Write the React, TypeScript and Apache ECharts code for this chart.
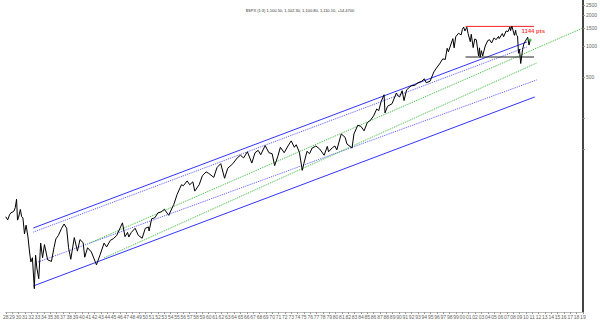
import React, { useEffect, useRef } from "react";
import * as echarts from "echarts";

const YEAR_MIN = 1928;
const YEAR_MAX = 2019;
const PRICE_MIN = 2.615;
const PRICE_MAX = 2797;

const TITLE = "$SPX (1:3) 1,100.50, 1,102.30, 1,100.80, 1,110.10, +14.4700";

const spxYears = [
  1928.0, 1928.3, 1928.6, 1928.8, 1929.0, 1929.3, 1929.5, 1929.7, 1929.85, 1930.0, 1930.3, 1930.5, 1930.7, 1930.95,
  1931.2, 1931.5, 1931.75, 1931.95, 1932.2, 1932.5, 1932.7, 1932.9, 1933.2, 1933.5, 1933.8, 1934.1,
  1934.6, 1935.2, 1935.6, 1935.9, 1936.3, 1936.8, 1937.2, 1937.6, 1937.9, 1938.25, 1938.8, 1939.3,
  1939.7, 1940.2, 1940.45, 1940.9, 1941.5, 1942.3, 1942.9, 1943.5, 1943.9, 1944.5, 1945.0, 1945.5,
  1946.4, 1946.8, 1947.2, 1947.4, 1947.8, 1948.4, 1948.9, 1949.5, 1950.0, 1950.5, 1950.6, 1951.0,
  1951.5, 1952.0, 1952.5, 1953.0, 1953.7, 1954.0, 1954.5, 1955.0, 1955.7, 1956.0, 1956.6, 1957.0,
  1957.5, 1957.8, 1958.5, 1959.0, 1959.6, 1960.0, 1960.8, 1961.3, 1961.9, 1962.5, 1963.0, 1963.8,
  1964.5, 1965.0, 1965.5, 1966.1, 1966.8, 1967.3, 1967.8, 1968.2, 1968.9, 1969.5, 1970.0, 1970.4,
  1970.9, 1971.3, 1971.9, 1972.5, 1973.0, 1973.5, 1973.8, 1974.3, 1974.75, 1975.0, 1975.5, 1975.9,
  1976.3, 1976.9, 1977.5, 1978.2, 1978.7, 1978.9, 1979.5, 1979.9, 1980.2, 1980.9, 1981.5, 1981.8,
  1982.6, 1982.9, 1983.5, 1984.0, 1984.5, 1985.0, 1985.5, 1986.0, 1986.5, 1986.8, 1987.2, 1987.65,
  1987.8, 1988.2, 1988.9, 1989.6, 1989.8, 1990.1, 1990.5, 1990.8, 1991.2, 1991.9, 1992.5, 1993.0,
  1993.6, 1994.0, 1994.3, 1994.9, 1995.5, 1995.9, 1996.4, 1996.9, 1997.3, 1997.6, 1997.8, 1998.1,
  1998.5, 1998.7, 1998.95, 1999.4, 1999.8, 2000.0, 2000.2, 2000.4, 2000.7, 2000.9, 2001.25, 2001.4,
  2001.7, 2001.95, 2002.2, 2002.55, 2002.7, 2002.8, 2003.0, 2003.2, 2003.6, 2004.0, 2004.3, 2004.6,
  2005.0, 2005.3, 2005.7, 2005.8, 2006.3, 2006.5, 2006.9, 2007.2, 2007.5, 2007.6, 2007.8, 2008.2,
  2008.4, 2008.5, 2008.7, 2008.85, 2009.0, 2009.2, 2009.5, 2009.7, 2009.9, 2010.3, 2010.5, 2010.7,
];

const spxValues = [
  22, 20.5, 23, 24, 24.3, 25, 27, 32.5, 20.4, 21.5, 25.9, 22, 21.5, 15,
  18.2, 14, 10, 8, 8.8, 4.4, 9.3, 7, 5.5, 12.2, 8.8, 11.8,
  8.4, 8.1, 11, 13.4, 14.5, 17, 18.7, 17, 11, 8.5, 13.8, 10.2,
  13.2, 12.3, 8.9, 11, 10, 7.5, 9.5, 12.2, 11.2, 13, 13.5, 14.5,
  19.2, 14.1, 15.5, 14, 15.5, 17, 14.5, 13.6, 17, 17.5, 16, 21,
  21.5, 24, 24.5, 26, 22.7, 25, 29, 36, 45, 44, 49, 45,
  48, 39, 45, 55, 60, 58, 53, 66, 72, 52, 65, 72,
  82, 87, 82, 94, 73, 92, 97, 88, 108, 92, 90, 69,
  85, 104, 92, 107, 120, 104, 110, 93, 62, 72, 95, 90,
  102, 107, 100, 87, 106, 94, 103, 107, 98, 140, 130, 112,
  102, 140, 170, 166, 150, 180, 190, 210, 245, 235, 290, 336,
  224, 260, 275, 350, 330, 320, 368, 295, 375, 410, 415, 440,
  455, 480, 440, 455, 560, 610, 670, 750, 740, 950, 880, 1000,
  1180, 960, 1230, 1330, 1280, 1450, 1527, 1400, 1520, 1320, 1100, 1300,
  965, 1170, 1150, 800, 960, 776, 900, 800, 1000, 1130, 1150, 1070,
  1200, 1150, 1240, 1180, 1320, 1230, 1400, 1380, 1530, 1410, 1565, 1270,
  1420, 1280, 1250, 850, 930, 676, 930, 1050, 1110, 1217, 1022, 1144,
];

// trend channel lines: [startYear, startValue, endYear, endValue]
const upperSolidLine = [1932.34, 17.1, 2010.17, 1094];
const upperDottedLine = [1932.34, 15.6, 2010.17, 978];
const midDottedLine = [1933.1, 8.0, 2011.7, 468];
const lowerSolidLine = [1932.34, 4.68, 2011.41, 320];
const greenUpperLine = [1941.2, 12.2, 2019, 1496];
const greenLowerLine = [1943.5, 8.75, 2011.7, 684];

const topLevelLine = [2000.5, 1550, 2011.3, 1550];
const bottomLevelLine = [2000.5, 782, 2011.3, 782];

const lastPoint = [2010.7, 1144];
const lastLabel = "1144 pts";

const rightTickValues = [100, 200, 500, 1000, 1500, 2000, 2500];
const rightLabelValues = [500, 1000, 1500, 2000, 2500];

const seg = (a: number[]) => [
  [a[0], a[1]],
  [a[2], a[3]],
];

export default function App() {
  const ref = useRef<HTMLDivElement>(null);
  useEffect(() => {
    document.body.style.margin = "0";
    const chart = echarts.init(ref.current!, undefined, { renderer: "svg" });
    const lineSeries = (data: number[][], color: string, type: string) => ({
      type: "line",
      data,
      xAxisIndex: 0,
      yAxisIndex: 0,
      symbol: "none",
      silent: true,
      lineStyle: { color, width: 1, type },
      z: 2,
    });
    chart.setOption({
      animation: false,
      backgroundColor: "#ffffff",
      textStyle: { fontFamily: "Liberation Sans" },
      title: {
        text: TITLE,
        left: "center",
        top: 3,
        textStyle: { fontSize: 4, fontWeight: "normal", color: "#333" },
      },
      grid: { left: 0, right: 13, top: 0, bottom: 20 },
      xAxis: {
        type: "value",
        min: YEAR_MIN,
        max: YEAR_MAX,
        interval: 1,
        axisLine: { show: true, lineStyle: { color: "#bbb", width: 1 } },
        axisTick: { show: true, length: 2, lineStyle: { color: "#999" } },
        axisLabel: {
          fontSize: 5,
          color: "#666",
          margin: 2,
          formatter: (v: number) => String(Math.round(v) % 100).padStart(2, "0"),
        },
        splitLine: { show: false },
      },
      yAxis: [
        {
          type: "log",
          min: PRICE_MIN,
          max: PRICE_MAX,
          position: "left",
          show: false,
          splitLine: { show: false },
        },
        {
          type: "value",
          min: Math.log10(PRICE_MIN),
          max: Math.log10(PRICE_MAX),
          position: "right",
          axisLine: { show: true, lineStyle: { color: "#444", width: 2 } },
          axisTick: {
            show: true,
            inside: false,
            length: 2,
            lineStyle: { color: "#888" },
            customValues: rightTickValues.map((v) => Math.log10(v)),
          },
          axisLabel: {
            fontSize: 5,
            color: "#666",
            margin: 3,
            customValues: rightLabelValues.map((v) => Math.log10(v)),
            formatter: (v: number) => String(Math.round(Math.pow(10, v))),
          },
          splitLine: { show: false },
        },
      ],
      series: [
        lineSeries(seg(upperSolidLine), "#3333ff", "solid"),
        lineSeries(seg(upperDottedLine), "#5555ff", "dotted"),
        lineSeries(seg(midDottedLine), "#5555ff", "dotted"),
        lineSeries(seg(lowerSolidLine), "#3333ff", "solid"),
        lineSeries(seg(greenUpperLine), "#33bb33", "dotted"),
        lineSeries(seg(greenLowerLine), "#33bb33", "dotted"),
        lineSeries(seg(topLevelLine), "#ff2222", "solid"),
        lineSeries(seg(bottomLevelLine), "#222222", "solid"),
        {
          type: "line",
          data: spxYears.map((y, i) => [y, spxValues[i]]),
          xAxisIndex: 0,
          yAxisIndex: 0,
          symbol: "none",
          lineStyle: { color: "#000", width: 1 },
          z: 3,
        },
        {
          type: "scatter",
          data: [lastPoint],
          xAxisIndex: 0,
          yAxisIndex: 0,
          symbolSize: 3,
          itemStyle: { color: "#33bb33" },
          label: {
            show: true,
            position: "top",
            distance: 4,
            offset: [3, 0],
            formatter: lastLabel,
            color: "#ff0000",
            fontSize: 6,
            fontWeight: "bold",
          },
          z: 4,
        },
      ],
    });
    return () => chart.dispose();
  }, []);
  return <div ref={ref} style={{ width: 600, height: 332 }} />;
}
